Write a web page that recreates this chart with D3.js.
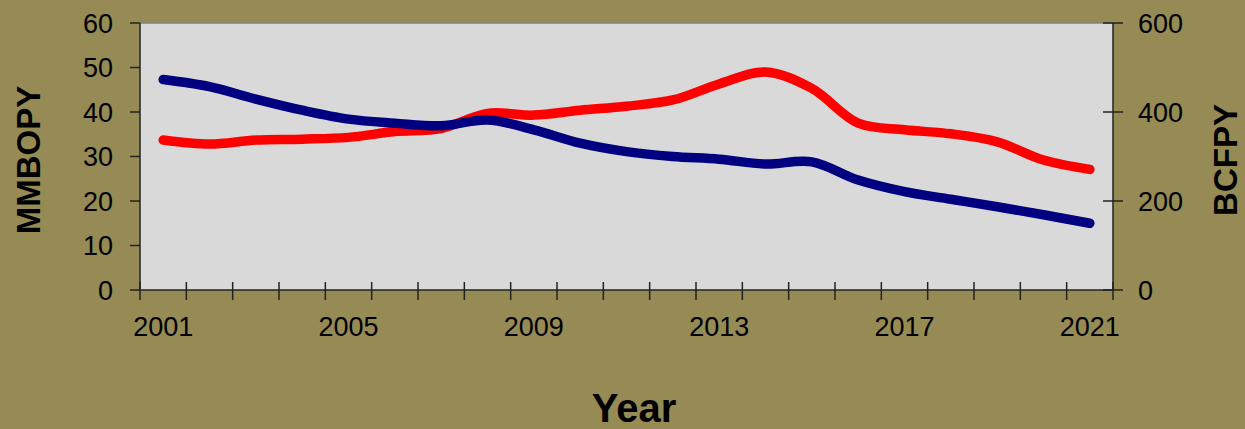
<!DOCTYPE html>
<html>
<head>
<meta charset="utf-8">
<script src="https://cdn.jsdelivr.net/npm/d3@7"></script>
<style>
  body { margin: 0; background: #968b55; }
  svg { display: block; font-family: "Liberation Sans", Arial, sans-serif; }
</style>
</head>
<body>
<div id="chart"></div>
<script>
const years = d3.range(2001, 2022);
const yearLabels = [2001, 2005, 2009, 2013, 2017, 2021];
// oil, left axis (MMBOPY)
const oil = [47.3, 45.7, 42.9, 40.4, 38.4, 37.5, 36.9, 38.2, 36.0, 33.0, 31.1,
             30.0, 29.4, 28.3, 28.8, 24.7, 22.1, 20.4, 18.7, 16.9, 15.0];
// gas, right axis (BCFPY)
const gas = [337, 328, 337, 339, 343, 356, 363, 397, 393, 404, 413,
             427, 463, 490, 453, 375, 360, 351, 333, 292, 271];
const leftTicks = [0, 10, 20, 30, 40, 50, 60];
const rightTicks = [0, 200, 400, 600];

const W = 1245, H = 429;
const plotL = 140, plotR = 1113, plotT = 23, plotB = 290;

const svg = d3.select('#chart').append('svg')
    .attr('width', W)
    .attr('height', H);

// category style x axis: labels sit between tick marks
const x = d3.scaleBand().domain(years).range([plotL, plotR]);
const yL = d3.scaleLinear().domain([0, 60]).range([plotB, plotT]);
const yR = d3.scaleLinear().domain([0, 600]).range([plotB, plotT]);

// plot area
svg.append('rect')
    .attr('x', plotL).attr('y', plotT)
    .attr('width', plotR - plotL).attr('height', plotB - plotT)
    .attr('fill', '#d9d9d9');
svg.append('line')
    .attr('x1', plotL).attr('x2', plotR).attr('y1', plotT).attr('y2', plotT)
    .attr('stroke', '#808080').attr('stroke-width', 1.5);

// left axis
const gL = svg.append('g').attr('transform', `translate(${plotL},0)`);
gL.append('line').attr('y1', plotT).attr('y2', plotB).attr('stroke', '#222').attr('stroke-width', 1.5);
gL.selectAll('.t').data(leftTicks).enter().append('line')
    .attr('x1', -10).attr('x2', 0)
    .attr('y1', d => yL(d)).attr('y2', d => yL(d))
    .attr('stroke', '#222').attr('stroke-width', 1.5);
gL.selectAll('.l').data(leftTicks).enter().append('text')
    .attr('x', -27).attr('y', d => yL(d))
    .attr('dy', '0.36em')
    .attr('text-anchor', 'end')
    .style('font-size', '27px')
    .text(d => d);

// right axis
const gR = svg.append('g').attr('transform', `translate(${plotR},0)`);
gR.append('line').attr('y1', plotT).attr('y2', plotB).attr('stroke', '#222').attr('stroke-width', 1.5);
gR.selectAll('.t').data(rightTicks).enter().append('line')
    .attr('x1', -10).attr('x2', 10)
    .attr('y1', d => yR(d)).attr('y2', d => yR(d))
    .attr('stroke', '#222').attr('stroke-width', 1.5);
gR.selectAll('.l').data(rightTicks).enter().append('text')
    .attr('x', 25).attr('y', d => yR(d))
    .attr('dy', '0.36em')
    .style('font-size', '27px')
    .text(d => d);

// bottom axis
const gB = svg.append('g').attr('transform', `translate(0,${plotB})`);
gB.append('line').attr('x1', plotL).attr('x2', plotR).attr('stroke', '#222').attr('stroke-width', 1.5);
gB.selectAll('.t').data(years.concat([2022])).enter().append('line')
    .attr('x1', d => d === 2022 ? plotR : x(d)).attr('x2', d => d === 2022 ? plotR : x(d))
    .attr('y1', -8).attr('y2', 10)
    .attr('stroke', '#222').attr('stroke-width', 1.5);
gB.selectAll('.l').data(yearLabels).enter().append('text')
    .attr('x', d => x(d) + x.bandwidth() / 2)
    .attr('y', 46)
    .attr('text-anchor', 'middle')
    .style('font-size', '27px')
    .text(d => d);

// lines
const cx = d => x(d) + x.bandwidth() / 2;
const lineL = d3.line().x((d, i) => cx(years[i])).y(d => yL(d)).curve(d3.curveCatmullRom.alpha(0.5));
const lineR = d3.line().x((d, i) => cx(years[i])).y(d => yR(d)).curve(d3.curveCatmullRom.alpha(0.5));

svg.append('path').datum(gas)
    .attr('d', lineR)
    .attr('fill', 'none').attr('stroke', '#ff0000')
    .attr('stroke-width', 9.5).attr('stroke-linecap', 'round').attr('stroke-linejoin', 'round');
svg.append('path').datum(oil)
    .attr('d', lineL)
    .attr('fill', 'none').attr('stroke', '#000080')
    .attr('stroke-width', 9.5).attr('stroke-linecap', 'round').attr('stroke-linejoin', 'round');

// axis titles
svg.append('text')
    .attr('transform', 'translate(40,160) rotate(-90)')
    .attr('text-anchor', 'middle')
    .style('font-size', '33px').style('font-weight', 'bold')
    .text('MMBOPY');
svg.append('text')
    .attr('transform', 'translate(1237,160) rotate(-90)')
    .attr('text-anchor', 'middle')
    .style('font-size', '33px').style('font-weight', 'bold')
    .text('BCFPY');
svg.append('text')
    .attr('x', 634).attr('y', 422)
    .attr('text-anchor', 'middle')
    .style('font-size', '40px').style('font-weight', 'bold')
    .text('Year');
</script>
</body>
</html>
